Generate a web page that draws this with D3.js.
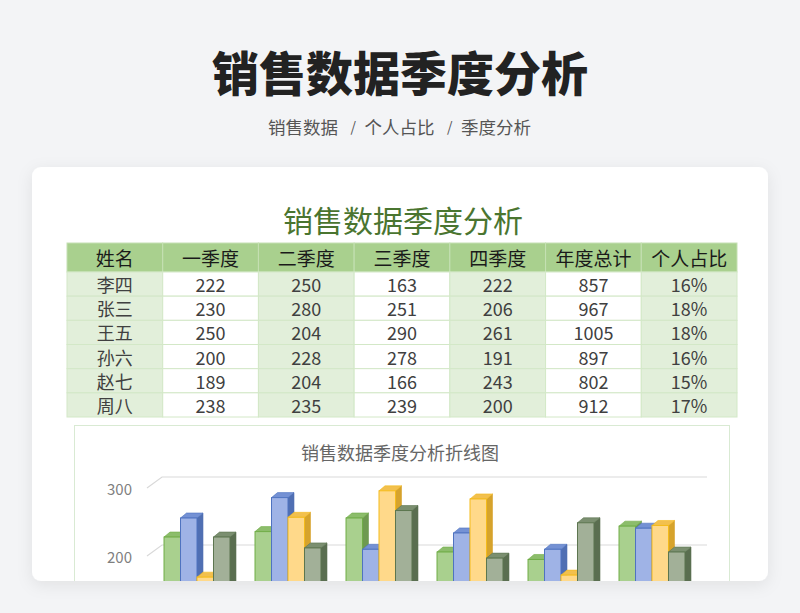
<!DOCTYPE html>
<html>
<head>
<meta charset="utf-8">
<script src="https://cdn.jsdelivr.net/npm/d3@7"></script>
<style>
  html, body { margin: 0; padding: 0; background: #f3f4f6; }
  svg { display: block; font-family: "Noto Sans CJK SC", "Noto Sans", sans-serif; }
</style>
</head>
<body>
<svg id="chart" width="800" height="613"></svg>
<script>
// data
var headers = ["姓名", "一季度", "二季度", "三季度", "四季度", "年度总计", "个人占比"];
var names = ["李四", "张三", "王五", "孙六", "赵七", "周八"];
var quarters = ["一季度", "二季度", "三季度", "四季度"];
var q1 = [222, 230, 250, 200, 189, 238];
var q2 = [250, 280, 204, 228, 204, 235];
var q3 = [163, 251, 290, 278, 166, 239];
var q4 = [222, 206, 261, 191, 243, 200];
var totals = [857, 967, 1005, 897, 802, 912];
var shares = ["16%", "18%", "18%", "16%", "15%", "17%"];
var crumbs = ["销售数据", "个人占比", "季度分析"];
var yTicks = [200, 300];

var svg = d3.select("#chart"),
  width = +svg.attr("width"),
  height = +svg.attr("height");

// page header
svg.append("text")
  .attr("x", width / 2).attr("y", 70)
  .attr("text-anchor", "middle").attr("dominant-baseline", "central")
  .attr("font-size", 47).attr("font-weight", 900).attr("fill", "#222")
  .text("销售数据季度分析");

// breadcrumb: words with slashes between
var crumbX = d3.scalePoint().domain(crumbs).range([303, 496]);
var crumbG = svg.append("g").attr("font-size", 17.5).attr("fill", "#555");
crumbG.selectAll("text.word")
  .data(crumbs).enter().append("text")
  .attr("class", "word")
  .attr("x", function (d) { return crumbX(d); }).attr("y", 126)
  .attr("text-anchor", "middle").attr("dominant-baseline", "central")
  .text(function (d) { return d; });
crumbG.selectAll("text.sep")
  .data(crumbs.slice(1)).enter().append("text")
  .attr("class", "sep")
  .attr("x", function (d, i) { return (crumbX(crumbs[i]) + crumbX(d)) / 2 + 2; }).attr("y", 126)
  .attr("text-anchor", "middle").attr("dominant-baseline", "central")
  .attr("font-size", 14)
  .text("/");

// card
var defs = svg.append("defs");
var shadow = defs.append("filter").attr("id", "shadow")
  .attr("x", "-10%").attr("y", "-10%").attr("width", "120%").attr("height", "130%");
shadow.append("feDropShadow").attr("dx", 0).attr("dy", 4).attr("stdDeviation", 8)
  .attr("flood-color", "#000").attr("flood-opacity", 0.08);

defs.append("clipPath").attr("id", "cardclip")
  .append("rect").attr("x", 32).attr("y", 167).attr("width", 736).attr("height", 414).attr("rx", 9);

svg.append("rect")
  .attr("x", 32).attr("y", 167).attr("width", 736).attr("height", 414).attr("rx", 9)
  .attr("fill", "#fff").attr("filter", "url(#shadow)");

var card = svg.append("g").attr("clip-path", "url(#cardclip)");

// sheet title
card.append("text")
  .attr("x", 403).attr("y", 219)
  .attr("text-anchor", "middle").attr("dominant-baseline", "central")
  .attr("font-size", 30).attr("fill", "#4a7530")
  .text("销售数据季度分析");

// table
var col = d3.scaleBand().domain(headers).range([67, 737]);
var rowY = d3.scaleBand().domain(names).range([272, 417]);
var headTop = 243;

var rows = names.map(function (n, i) {
  return [n, q1[i], q2[i], q3[i], q4[i], totals[i], shares[i]];
});

var table = card.append("g");

table.selectAll("rect.head")
  .data(headers).enter().append("rect")
  .attr("class", "head")
  .attr("x", function (d) { return col(d); })
  .attr("y", headTop)
  .attr("width", col.bandwidth())
  .attr("height", rowY.range()[0] - headTop)
  .attr("fill", "#a9d08e")
  .attr("stroke", "#c5e0b3").attr("stroke-width", 1);

table.selectAll("text.head")
  .data(headers).enter().append("text")
  .attr("class", "head")
  .attr("x", function (d) { return col(d) + col.bandwidth() / 2; })
  .attr("y", (headTop + rowY.range()[0]) / 2)
  .attr("text-anchor", "middle").attr("dominant-baseline", "central")
  .attr("font-size", 19).attr("fill", "#1a1a1a")
  .text(function (d) { return d; });

var rowG = table.selectAll("g.row")
  .data(rows).enter().append("g")
  .attr("class", "row")
  .attr("transform", function (d) { return "translate(0," + rowY(d[0]) + ")"; });

rowG.selectAll("rect")
  .data(function (d) { return d.map(function (v, j) { return { v: v, j: j }; }); })
  .enter().append("rect")
  .attr("x", function (d) { return col(headers[d.j]); })
  .attr("width", col.bandwidth())
  .attr("height", rowY.bandwidth())
  .attr("fill", function (d) { return d.j % 2 === 0 ? "#e2efda" : "#fff"; })
  .attr("stroke", "#d3e8c7").attr("stroke-width", 1);

rowG.selectAll("text")
  .data(function (d) { return d.map(function (v, j) { return { v: v, j: j }; }); })
  .enter().append("text")
  .attr("x", function (d) { return col(headers[d.j]) + col.bandwidth() / 2; })
  .attr("y", rowY.bandwidth() / 2)
  .attr("text-anchor", "middle").attr("dominant-baseline", "central")
  .attr("font-size", 18)
  .attr("fill", "#404040")
  .text(function (d) { return d.v; });

// chart box
card.append("rect")
  .attr("x", 74.5).attr("y", 425.5).attr("width", 655).attr("height", 260)
  .attr("fill", "#fff").attr("stroke", "#d9ead3");

card.append("text")
  .attr("x", 400).attr("y", 452)
  .attr("text-anchor", "middle").attr("dominant-baseline", "central")
  .attr("font-size", 18).attr("fill", "#666")
  .text("销售数据季度分析折线图");

var y = d3.scaleLinear().domain([0, 300]).range([688, 484]);
var x0 = d3.scaleBand().domain(names).range([151.5, 697.5]).paddingInner(0.275).paddingOuter(0.1375);
var x1 = d3.scaleBand().domain(quarters).range([0, x0.bandwidth()]);

// gridlines (3D wall + floor edge)
var grid = card.append("g");
grid.selectAll("path")
  .data(yTicks).enter().append("path")
  .attr("d", function (v) {
    return "M147," + (y(v) + 4) + "L162," + (y(v) - 7) + "H707";
  })
  .attr("fill", "none").attr("stroke", "#d9d9d9").attr("stroke-width", 1.2);

grid.selectAll("text")
  .data(yTicks).enter().append("text")
  .attr("x", 132).attr("y", function (v) { return y(v) + 4; })
  .attr("text-anchor", "end").attr("dominant-baseline", "central")
  .attr("font-size", 15).attr("fill", "#7f7f7f")
  .text(function (v) { return v; });

// 3D columns
var series = [
  { key: "一季度", values: q1, front: "#a9d08e", top: "#8cbd6b", side: "#6e9a50", line: "#70ad47" },
  { key: "二季度", values: q2, front: "#9fb3e6", top: "#7491d4", side: "#506fb3", line: "#4f73c0" },
  { key: "三季度", values: q3, front: "#ffd98a", top: "#f2c04e", side: "#d6a32c", line: "#f5bb1b" },
  { key: "四季度", values: q4, front: "#a2b098", top: "#7b8f70", side: "#5a6e50", line: "#5d7650" }
];

var dx = 6, dy = 5, base = y(0);
var bars = [];
names.forEach(function (n, i) {
  series.forEach(function (s) {
    bars.push({ name: n, s: s, v: s.values[i] });
  });
});

var barG = card.append("g").selectAll("g")
  .data(bars).enter().append("g")
  .attr("transform", function (d) { return "translate(" + (x0(d.name) + x1(d.s.key)) + ",0)"; });

var w = x1.bandwidth();

barG.append("path")
  .attr("d", function (d) {
    var t = y(d.v);
    return "M" + w + "," + t + "L" + (w + dx) + "," + (t - dy) + "L" + (w + dx) + "," + (base - dy) + "L" + w + "," + base + "Z";
  })
  .attr("fill", function (d) { return d.s.side; })
  .attr("stroke", function (d) { return d.s.side; }).attr("stroke-width", 0.6);

barG.append("path")
  .attr("d", function (d) {
    var t = y(d.v);
    return "M0," + t + "L" + dx + "," + (t - dy) + "L" + (w + dx) + "," + (t - dy) + "L" + w + "," + t + "Z";
  })
  .attr("fill", function (d) { return d.s.top; })
  .attr("stroke", function (d) { return d.s.line; }).attr("stroke-width", 0.6);

barG.append("rect")
  .attr("x", 0).attr("y", function (d) { return y(d.v); })
  .attr("width", w)
  .attr("height", function (d) { return base - y(d.v); })
  .attr("fill", function (d) { return d.s.front; })
  .attr("stroke", function (d) { return d.s.line; }).attr("stroke-width", 1);
</script>
</body>
</html>
